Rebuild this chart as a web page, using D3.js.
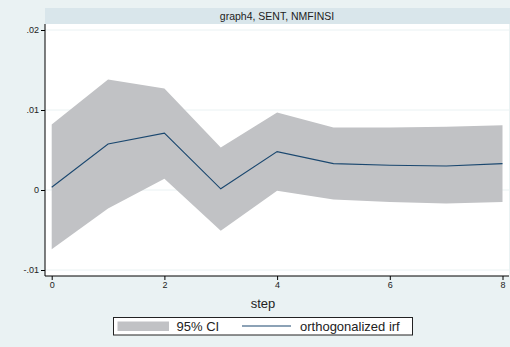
<!DOCTYPE html>
<html>
<head>
<meta charset="utf-8">
<script src="https://cdn.jsdelivr.net/npm/d3@7"></script>
<style>
  html, body { margin: 0; padding: 0; background: #eaf2f3; }
  svg { display: block; font-family: "Liberation Sans", Arial, Helvetica, sans-serif; }
</style>
</head>
<body>
<svg id="chart" width="510" height="347"></svg>
<script>
// Impulse response: graph4, impulse SENT, response NMFINSI
const steps = [0, 1, 2, 3, 4, 5, 6, 7, 8];
const irf   = [0.00035, 0.00575, 0.0071, 0.00015, 0.0048, 0.0033, 0.0031, 0.0030, 0.0033];
const upper = [0.0082, 0.0138, 0.0127, 0.0053, 0.0097, 0.0078, 0.0078, 0.0079, 0.0081];
const lower = [-0.0074, -0.0023, 0.0014, -0.0051, -0.0001, -0.0012, -0.0015, -0.0017, -0.0015];
const yTicks = [-0.01, 0, 0.01, 0.02];
const yTickLabels = ["-.01", "0", ".01", ".02"];
const xTicks = [0, 2, 4, 6, 8];
const titleText = "graph4, SENT, NMFINSI";
const xTitle = "step";
const legendLabels = ["95% CI", "orthogonalized irf"];

const svg = d3.select("#chart");
const plot = { left: 45, right: 509, top: 24, bottom: 276 };

const x = d3.scaleLinear().domain([0, 8]).range([51.7, 502.5]);
const y = d3.scaleLinear().domain([-0.01, 0.02]).range([270, 30]);

// subtitle strip
svg.append("rect")
  .attr("x", plot.left).attr("y", 8)
  .attr("width", 510 - plot.left).attr("height", plot.top - 8)
  .attr("fill", "#d9e6eb");
svg.append("text")
  .attr("x", (plot.left + plot.right) / 2).attr("y", 19.5)
  .attr("text-anchor", "middle")
  .attr("font-size", 10.5).attr("fill", "#222")
  .text(titleText);

// plot region
svg.append("rect")
  .attr("x", plot.left).attr("y", plot.top)
  .attr("width", plot.right - plot.left).attr("height", plot.bottom - plot.top)
  .attr("fill", "#ffffff");

// grid lines
svg.append("g").selectAll("line").data(yTicks).join("line")
  .attr("x1", plot.left).attr("x2", plot.right)
  .attr("y1", d => y(d)).attr("y2", d => y(d))
  .attr("stroke", "#eaf2f3").attr("stroke-width", 1);

const data = steps.map((s, i) => ({ s, irf: irf[i], lo: lower[i], hi: upper[i] }));

// confidence band
svg.append("path").datum(data)
  .attr("d", d3.area().x(d => x(d.s)).y0(d => y(d.lo)).y1(d => y(d.hi)))
  .attr("fill", "#c1c2c5");

// irf line
svg.append("path").datum(data)
  .attr("d", d3.line().x(d => x(d.s)).y(d => y(d.irf)))
  .attr("fill", "none").attr("stroke", "#1a476f").attr("stroke-width", 1.1);

// y axis
const yAxis = d3.axisLeft(y).tickValues(yTicks)
  .tickFormat((d, i) => yTickLabels[i]).tickSize(4).tickPadding(2);
const gy = svg.append("g").attr("transform", `translate(${plot.left},0)`).call(yAxis);
gy.select(".domain").attr("d", `M0,${plot.top}V${plot.bottom}`).attr("stroke", "#000");
gy.selectAll(".tick line").attr("stroke", "#000");
gy.selectAll(".tick text").attr("font-size", 9).attr("fill", "#222")
  .attr("font-family", "Liberation Sans, Arial, sans-serif");

// x axis
const xAxis = d3.axisBottom(x).tickValues(xTicks).tickFormat(d3.format("d"))
  .tickSize(4).tickPadding(2);
const gx = svg.append("g").attr("transform", `translate(0,${plot.bottom})`).call(xAxis);
gx.select(".domain").attr("d", `M${plot.left},0H${plot.right}`).attr("stroke", "#000");
gx.selectAll(".tick line").attr("stroke", "#000");
gx.selectAll(".tick text").attr("font-size", 9).attr("fill", "#222")
  .attr("font-family", "Liberation Sans, Arial, sans-serif");

svg.append("text")
  .attr("x", 263).attr("y", 307.5)
  .attr("text-anchor", "middle").attr("font-size", 13).attr("fill", "#222")
  .text(xTitle);

// legend
const leg = svg.append("g");
leg.append("rect").attr("x", 113.5).attr("y", 317.5).attr("width", 299).attr("height", 17.5)
  .attr("fill", "#fff").attr("stroke", "#222").attr("stroke-width", 1);
leg.append("rect").attr("x", 117.5).attr("y", 321.5).attr("width", 51.5).attr("height", 9.5)
  .attr("fill", "#c1c2c5");
leg.append("text").attr("x", 176.5).attr("y", 331).attr("font-size", 13).attr("fill", "#222")
  .text(legendLabels[0]);
leg.append("line").attr("x1", 242).attr("x2", 291).attr("y1", 326).attr("y2", 326)
  .attr("stroke", "#1a476f").attr("stroke-width", 1.1);
leg.append("text").attr("x", 300).attr("y", 331).attr("font-size", 13).attr("fill", "#222")
  .text(legendLabels[1]);
</script>
</body>
</html>
